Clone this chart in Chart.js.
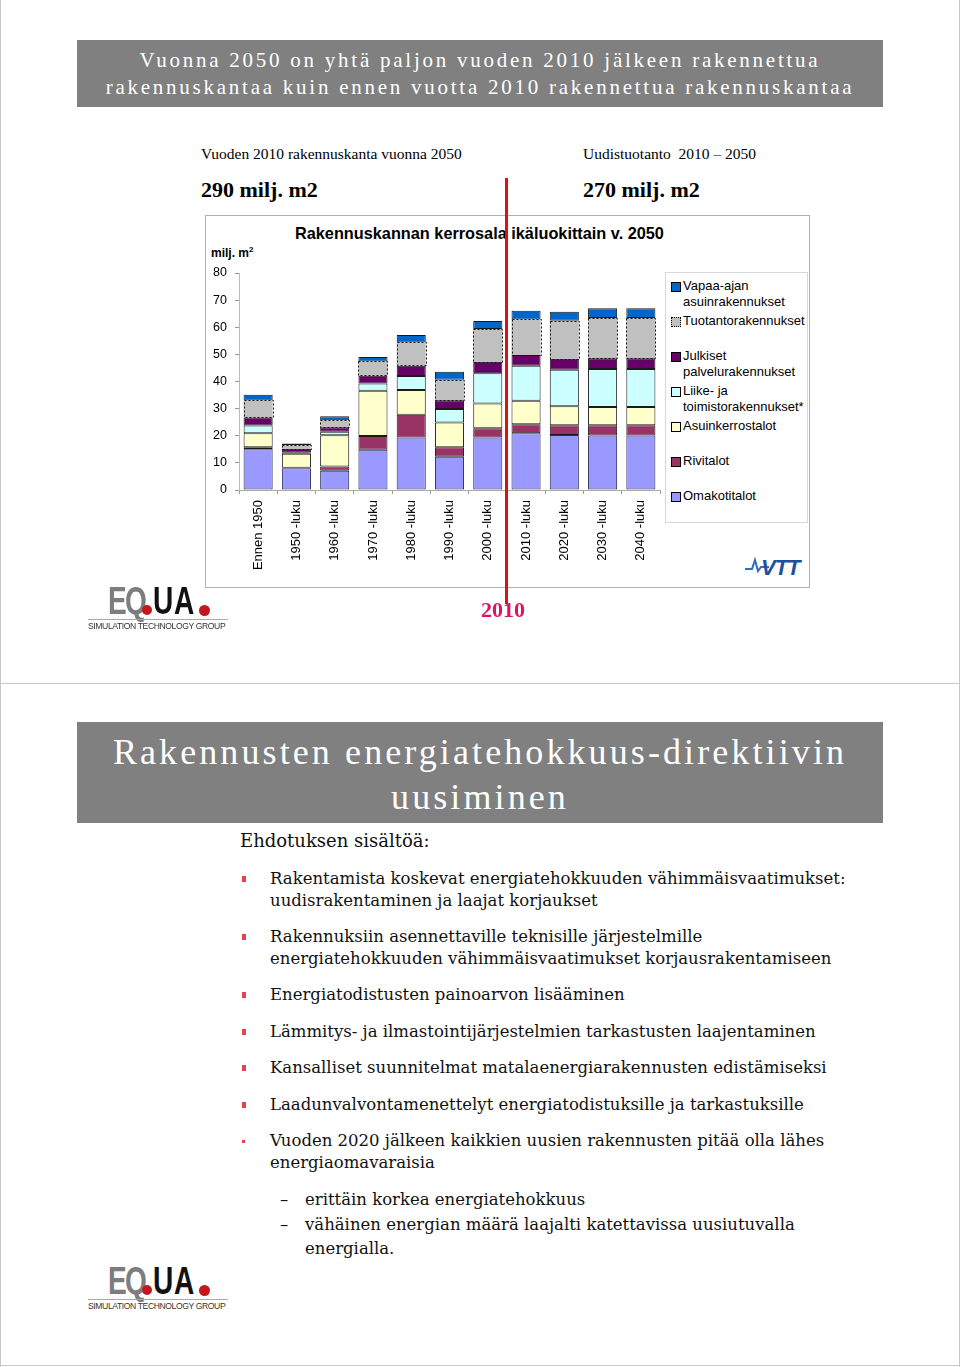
<!DOCTYPE html>
<html>
<head>
<meta charset="utf-8">
<script src="https://cdn.jsdelivr.net/npm/chart.js@4.4.0/dist/chart.umd.min.js"></script>
<style>
html, body { margin: 0; padding: 0; background: #fff; }
#page { position: relative; width: 960px; height: 1367px; overflow: hidden; font-family: "Liberation Serif", serif; }
.abs { position: absolute; }
.vline { position: absolute; width: 1px; background: #c8c8c8; }
.hline { position: absolute; height: 1px; background: #c8c8c8; }
.banner { position: absolute; left: 77px; width: 806px; background: #808080; color: #fff; text-align: center; }
.sub { font-size: 15.5px; color: #000; }
.big { font-size: 22px; font-weight: bold; color: #000; }
#chartBox { position: absolute; left: 205px; top: 215px; width: 605px; height: 373px; border: 1px solid #b0b0b0; box-sizing: border-box; }
#legend { position: absolute; left: 665px; top: 272px; width: 143px; height: 251px; border: 1px solid #d8d8d8; box-sizing: border-box; font-family: "Liberation Sans", Arial, sans-serif; font-size: 13px; color: #000; }
#legend .item { position: relative; height: 35px; padding-left: 17px; line-height: 16px; white-space: nowrap; }
#legend .box { position: absolute; left: 5px; top: 4px; width: 8px; height: 8px; border: 1px solid #000; }
.bul { position: absolute; left: 240px; font-family: "DejaVu Serif", serif; font-size: 16.5px; line-height: 22px; color: #111; }
.bul .mark { position: absolute; left: 2px; top: 8px; width: 4px; height: 6px; background: #e8414b; }
.bul .txt { margin-left: 30px; }
.dash { position: absolute; left: 280px; font-family: "DejaVu Serif", serif; font-size: 16.5px; line-height: 24.5px; color: #111; }
.dash span { position: absolute; left: 25px; white-space: nowrap; }
.equa { position: absolute; width: 145px; height: 50px; }
.equa .l { position: absolute; top: 1px; font-family: "Liberation Sans", sans-serif; font-weight: bold; font-size: 39px; line-height: 30px; transform: scaleX(0.72); transform-origin: left top; }
.equa .dot { position: absolute; border-radius: 50%; background: #c4161c; }
.equa .rule { position: absolute; left: 0; top: 34px; width: 140px; height: 1px; background: #aaa; }
.equa .tag { position: absolute; left: 0; top: 36px; font-family: "Liberation Sans", sans-serif; font-size: 8.6px; line-height: 11px; color: #333; white-space: nowrap; letter-spacing: -0.4px; }
</style>
</head>
<body>
<div id="page">
  <!-- page frames -->
  <div class="vline" style="left:0;top:0;height:1367px"></div>
  <div class="vline" style="left:959px;top:0;height:1367px"></div>
  <div class="hline" style="left:0;top:683px;width:960px"></div>
  <div class="hline" style="left:0;top:1365px;width:960px"></div>

  <!-- slide 1 -->
  <div class="banner" style="top:40px;height:67px;font-size:21px;line-height:27px;letter-spacing:2.75px;padding-top:7px;box-sizing:border-box">
    Vuonna 2050 on yhtä paljon vuoden 2010 jälkeen rakennettua<br>rakennuskantaa kuin ennen vuotta 2010 rakennettua rakennuskantaa
  </div>
  <div class="abs sub" style="left:201px;top:145px">Vuoden 2010 rakennuskanta vuonna 2050</div>
  <div class="abs sub" style="left:583px;top:145px">Uudistuotanto&nbsp; 2010 – 2050</div>
  <div class="abs big" style="left:201px;top:177px">290 milj. m2</div>
  <div class="abs big" style="left:583px;top:177px">270 milj. m2</div>

  <div id="chartBox"></div>
  <div class="abs" style="left:295px;top:224px;font-family:'Liberation Sans',Arial,sans-serif;font-weight:bold;font-size:16.3px">Rakennuskannan kerrosala ikäluokittain v. 2050</div>
  <div class="abs" style="left:211px;top:245px;font-family:'Liberation Sans',Arial,sans-serif;font-weight:bold;font-size:12px">milj. m<sup style="font-size:8px">2</sup></div>
  <canvas id="chart" class="abs" width="460" height="373" style="left:205px;top:215px"></canvas>
  <div id="legend"></div>

  <div class="abs" style="left:505px;top:178px;width:3px;height:426px;background:#e01010"></div>
  <div class="abs" style="left:481px;top:597px;font-size:22px;font-weight:bold;color:#dc1464">2010</div>

  <div class="equa" style="left:88px;top:585px">
    <div class="l" style="left:20px;color:#7d7d7d">E</div>
    <div class="l" style="left:37px;color:#7d7d7d">Q</div>
    <div class="dot" style="left:54px;top:20px;width:10px;height:10px"></div>
    <div class="l" style="left:65px;color:#111">U</div>
    <div class="l" style="left:86px;color:#111">A</div>
    <div class="dot" style="left:111px;top:20px;width:11px;height:11px"></div>
    <div class="rule"></div>
    <div class="tag">SIMULATION TECHNOLOGY GROUP</div>
  </div>
  <div class="abs" style="left:745px;top:555px;width:64px;height:26px">
    <svg width="24" height="20" style="position:absolute;left:0;top:2px"><polyline points="0,12 7,12 10,3 13,14 16,10 24,10" fill="none" stroke="#2d6cc0" stroke-width="2"/></svg>
    <div class="abs" style="left:16px;top:0;font-family:'Liberation Sans',sans-serif;font-weight:bold;font-style:italic;font-size:22px;color:#1f4f9c;letter-spacing:-1px">VTT</div>
  </div>

  <!-- slide 2 -->
  <div class="banner" style="top:722px;height:101px;font-size:36px;line-height:45px;letter-spacing:3.1px;padding-top:8px;box-sizing:border-box">
    Rakennusten energiatehokkuus-direktiivin<br>uusiminen
  </div>
  <div class="abs" style="left:240px;top:830px;font-family:'DejaVu Serif',serif;font-size:18px;color:#111">Ehdotuksen sisältöä:</div>

  <div class="bul" style="top:868px"><div class="mark"></div><div class="txt">Rakentamista koskevat energiatehokkuuden vähimmäisvaatimukset:<br>uudisrakentaminen ja laajat korjaukset</div></div>
  <div class="bul" style="top:926px"><div class="mark"></div><div class="txt">Rakennuksiin asennettaville teknisille järjestelmille<br>energiatehokkuuden vähimmäisvaatimukset korjausrakentamiseen</div></div>
  <div class="bul" style="top:984px"><div class="mark"></div><div class="txt">Energiatodistusten painoarvon lisääminen</div></div>
  <div class="bul" style="top:1021px"><div class="mark"></div><div class="txt">Lämmitys- ja ilmastointijärjestelmien tarkastusten laajentaminen</div></div>
  <div class="bul" style="top:1057px"><div class="mark"></div><div class="txt">Kansalliset suunnitelmat matalaenergiarakennusten edistämiseksi</div></div>
  <div class="bul" style="top:1094px"><div class="mark"></div><div class="txt">Laadunvalvontamenettelyt energiatodistuksille ja tarkastuksille</div></div>
  <div class="bul" style="top:1130px"><div class="mark" style="width:3px;height:3px;top:10px"></div><div class="txt">Vuoden 2020 jälkeen kaikkien uusien rakennusten pitää olla lähes<br>energiaomavaraisia</div></div>
  <div class="dash" style="top:1188px">–<span>erittäin korkea energiatehokkuus</span><br>–<span>vähäinen energian määrä laajalti katettavissa uusiutuvalla</span><br><span>energialla.</span></div>

  <div class="equa" style="left:88px;top:1265px">
    <div class="l" style="left:20px;color:#7d7d7d">E</div>
    <div class="l" style="left:37px;color:#7d7d7d">Q</div>
    <div class="dot" style="left:54px;top:20px;width:10px;height:10px"></div>
    <div class="l" style="left:65px;color:#111">U</div>
    <div class="l" style="left:86px;color:#111">A</div>
    <div class="dot" style="left:111px;top:20px;width:11px;height:11px"></div>
    <div class="rule"></div>
    <div class="tag">SIMULATION TECHNOLOGY GROUP</div>
  </div>
</div>

<script>
// ikäluokat
const categories = ['Ennen 1950', '1950 -luku', '1960 -luku', '1970 -luku', '1980 -luku', '1990 -luku',
                    '2000 -luku', '2010 -luku', '2020 -luku', '2030 -luku', '2040 -luku'];

// kerrosala, milj. m2 (luettu kuvasta)
const omakotitalot   = [15.0, 8.0, 7.1, 14.8, 19.4, 12.3, 19.4, 20.9, 20.3, 20.1, 20.1];
const rivitalot      = [0.8, 0.2, 1.6, 5.1, 8.3, 3.5, 3.4, 3.3, 3.6, 3.8, 3.8];
const asuinkerros    = [5.1, 5.2, 11.5, 16.7, 9.2, 9.1, 9.1, 8.7, 7.0, 6.7, 6.7];
const liike          = [2.9, 0.3, 1.3, 2.7, 5.1, 5.0, 11.1, 12.9, 13.4, 14.0, 14.0];
const julkiset       = [2.9, 1.5, 1.6, 2.8, 3.8, 3.2, 4.3, 4.0, 4.1, 4.0, 4.0];
const tuotanto       = [6.3, 1.3, 2.6, 5.3, 8.6, 7.5, 12.1, 13.1, 14.0, 14.8, 14.8];
const vapaaAjan      = [2.1, 0.6, 1.5, 1.6, 2.7, 3.0, 2.9, 3.2, 3.3, 3.6, 3.6];

const yTicks = [0, 10, 20, 30, 40, 50, 60, 70, 80];

const seriesLabels = ['Omakotitalot', 'Rivitalot', 'Asuinkerrostalot', 'Liike- ja toimistorakennukset*',
                      'Julkiset palvelurakennukset', 'Tuotantorakennukset', 'Vapaa-ajan asuinrakennukset'];
// legendan rivitys kuten alkuperäisessä
const legendText = ['Omakotitalot', 'Rivitalot', 'Asuinkerrostalot', 'Liike- ja<br>toimistorakennukset*',
                    'Julkiset<br>palvelurakennukset', 'Tuotantorakennukset', 'Vapaa-ajan<br>asuinrakennukset'];
const seriesColors = ['#9999ff', '#993366', '#ffffcc', '#ccffff', '#660066', '#c0c0c0', '#0066cc'];
const seriesData = [omakotitalot, rivitalot, asuinkerros, liike, julkiset, tuotanto, vapaaAjan];

const DASHED = 5; // tuotantorakennukset katkoviivalla

const datasets = seriesData.map((d, i) => ({
    label: seriesLabels[i],
    data: d,
    backgroundColor: seriesColors[i],
    borderColor: i === 0 ? '#2a2a55' : '#1a1a1a',
    borderWidth: i === DASHED ? 0 : 1,
    borderSkipped: false,
    barPercentage: 0.76,
    categoryPercentage: 1
}));

// katkoviivareunus tuotantorakennuksille
const dashedBorder = {
    id: 'dashedBorder',
    afterDatasetsDraw(chart) {
        const ctx = chart.ctx;
        const meta = chart.getDatasetMeta(DASHED);
        ctx.save();
        ctx.strokeStyle = '#111';
        ctx.lineWidth = 1;
        ctx.setLineDash([2, 2]);
        meta.data.forEach(bar => {
            const p = bar.getProps(['x', 'y', 'base', 'width'], true);
            ctx.strokeRect(Math.round(p.x - p.width / 2) + 0.5, Math.round(p.y) + 0.5,
                           Math.round(p.width), Math.round(p.base - p.y));
        });
        ctx.restore();
    }
};

const chart = new Chart(document.getElementById('chart').getContext('2d'), {
    type: 'bar',
    data: { labels: categories, datasets: datasets },
    options: {
        responsive: false,
        animation: false,
        layout: { padding: { top: 58, right: 5, left: 0, bottom: 0 } },
        plugins: { legend: { display: false }, tooltip: { enabled: false } },
        scales: {
            x: {
                stacked: true,
                grid: { drawOnChartArea: false, tickLength: 4, color: '#999' },
                border: { color: '#aaa' },
                ticks: {
                    minRotation: 90, maxRotation: 90, padding: 6,
                    color: '#000', font: { family: 'Liberation Sans', size: 13 }
                },
                afterFit: s => { s.height = 98; }
            },
            y: {
                stacked: true,
                min: 0, max: 80,
                afterBuildTicks: s => { s.ticks = yTicks.map(v => ({ value: v })); },
                grid: { drawOnChartArea: false, tickLength: 4, color: '#999' },
                border: { color: '#bbb' },
                ticks: { padding: 8, color: '#000', font: { family: 'Liberation Sans', size: 12.5 } },
                afterFit: s => { s.width = 34; }
            }
        }
    },
    plugins: [dashedBorder]
});

// legenda HTML:nä, käänteisessä järjestyksessä
const legend = document.getElementById('legend');
legend.style.paddingTop = '5px';
for (let i = datasets.length - 1; i >= 0; i--) {
    const item = document.createElement('div');
    item.className = 'item';
    const box = document.createElement('span');
    box.className = 'box';
    box.style.background = seriesColors[i];
    if (i === DASHED) box.style.borderStyle = 'dotted';
    item.appendChild(box);
    const t = document.createElement('span');
    t.innerHTML = legendText[i];
    item.appendChild(t);
    legend.appendChild(item);
}
</script>
</body>
</html>
